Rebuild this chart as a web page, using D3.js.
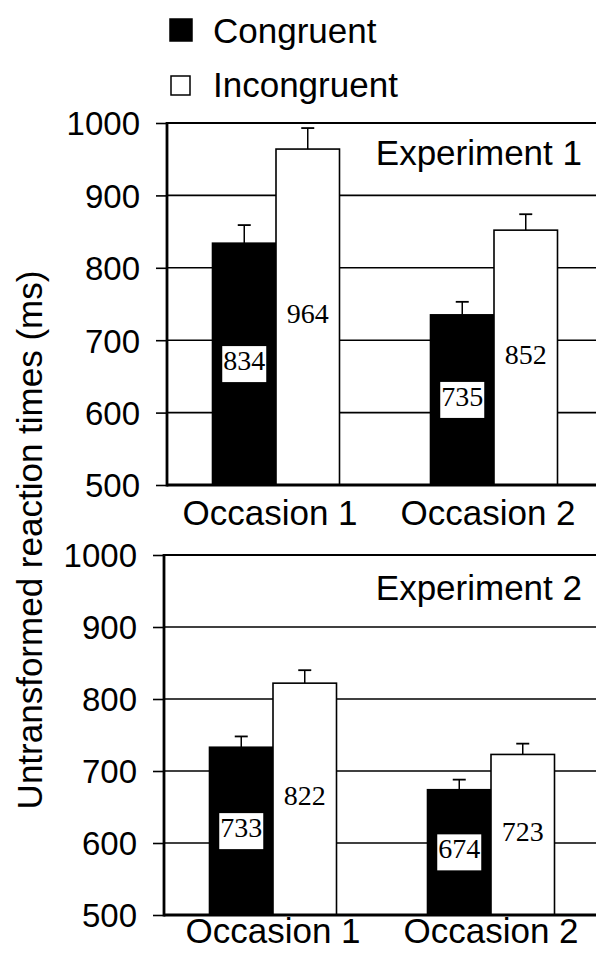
<!DOCTYPE html>
<html lang="en">
    <head>
        <meta charset="utf-8">
        <title>Reaction times</title>
        <script src="https://d3js.org/d3.v7.min.js"></script>
        <style>
            body { margin: 0; background: #fff; }
            text { font-family: "Liberation Sans", Arial, sans-serif; fill: #000; }
            .val { font-family: "Liberation Serif", "Times New Roman", serif; }
        </style>
    </head>
    <body>
        <div id="chart"></div>
        <script>
            // data
            var occasions = ["Occasion 1", "Occasion 2"];
            var series = ["Congruent", "Incongruent"];
            var exp1Congruent = [834, 735];
            var exp1Incongruent = [964, 852];
            var exp1CongruentErr = [25, 18];
            var exp1IncongruentErr = [29, 22];
            var exp2Congruent = [733, 674];
            var exp2Incongruent = [822, 723];
            var exp2CongruentErr = [15, 14];
            var exp2IncongruentErr = [18, 15];
            var yTicks = [500, 600, 700, 800, 900, 1000];

            var width = 596, height = 958;

            var svg = d3.select("#chart")
                        .append("svg")
                        .attr("width", width)
                        .attr("height", height);

            // panel layout
            var panels = [
                {title: "Experiment 1", top: 123, bottom: 485, left: 167, right: 603, titleY: 165, labelY: 525, labelDx: -6,
                 means: [exp1Congruent, exp1Incongruent], errs: [exp1CongruentErr, exp1IncongruentErr]},
                {title: "Experiment 2", top: 555, bottom: 915, left: 164, right: 600, titleY: 600, labelY: 943, labelDx: 0,
                 means: [exp2Congruent, exp2Incongruent], errs: [exp2CongruentErr, exp2IncongruentErr]}
            ];

            var barW = 63.5;

            panels.forEach(function(p) {
                var g = svg.append("g");

                var y = d3.scaleLinear().domain([500, 1000]).range([p.bottom, p.top]);
                var x0 = d3.scaleBand().domain(occasions).range([p.left, p.right]);
                var x1 = d3.scaleBand().domain(series)
                           .range([x0.bandwidth() / 2 - barW, x0.bandwidth() / 2 + barW]);

                // gridlines
                g.selectAll(".grid")
                    .data(yTicks.filter(function(d) { return d > 500 && d < 1000; }))
                    .enter().append("line")
                    .attr("x1", p.left).attr("x2", width + 10)
                    .attr("y1", function(d) { return y(d); })
                    .attr("y2", function(d) { return y(d); })
                    .attr("stroke", "#000").attr("stroke-width", 1.6);

                // top frame line
                g.append("line")
                    .attr("x1", p.left).attr("x2", width + 10)
                    .attr("y1", y(1000)).attr("y2", y(1000))
                    .attr("stroke", "#000").attr("stroke-width", 2.2);

                // bars
                var rows = [];
                occasions.forEach(function(o, i) {
                    series.forEach(function(s, j) {
                        rows.push({occ: o, ser: s, v: p.means[j][i], e: p.errs[j][i]});
                    });
                });

                var bars = g.selectAll(".bar").data(rows).enter().append("g")
                    .attr("transform", function(d) { return "translate(" + (x0(d.occ) + x1(d.ser)) + ",0)"; });

                // error bars
                bars.append("line")
                    .attr("x1", barW / 2).attr("x2", barW / 2)
                    .attr("y1", function(d) { return y(d.v); })
                    .attr("y2", function(d) { return y(d.v + d.e); })
                    .attr("stroke", "#000").attr("stroke-width", 1.5);
                bars.append("line")
                    .attr("x1", barW / 2 - 6.5).attr("x2", barW / 2 + 6.5)
                    .attr("y1", function(d) { return y(d.v + d.e); })
                    .attr("y2", function(d) { return y(d.v + d.e); })
                    .attr("stroke", "#000").attr("stroke-width", 1.8);

                bars.append("rect")
                    .attr("x", 0)
                    .attr("width", barW)
                    .attr("y", function(d) { return y(d.v); })
                    .attr("height", function(d) { return y(500) - y(d.v); })
                    .attr("fill", function(d) { return d.ser === "Congruent" ? "#000" : "#fff"; })
                    .attr("stroke", "#000").attr("stroke-width", 1.6);

                // value labels
                bars.filter(function(d) { return d.ser === "Congruent"; })
                    .append("rect")
                    .attr("x", barW / 2 - 22).attr("width", 44)
                    .attr("y", function(d) { return y((500 + d.v) / 2) - 18; })
                    .attr("height", 36)
                    .attr("fill", "#fff");
                bars.append("text")
                    .attr("class", "val")
                    .attr("x", barW / 2)
                    .attr("y", function(d) { return y((500 + d.v) / 2) + 6; })
                    .attr("text-anchor", "middle")
                    .style("font-size", "28px")
                    .text(function(d) { return d.v; });

                // left axis
                var yAxis = g.append("g")
                    .attr("transform", "translate(" + p.left + ",0)")
                    .call(d3.axisLeft(y).tickValues(yTicks).tickFormat(d3.format("d"))
                            .tickSize(11).tickPadding(16));
                yAxis.select(".domain").remove();
                yAxis.selectAll(".tick line").attr("stroke", "#000").attr("stroke-width", 1.6);
                yAxis.selectAll(".tick text")
                    .attr("dy", "0.36em")
                    .style("font-size", "33px")
                    .style("font-family", "'Liberation Sans', Arial, sans-serif");
                g.append("line")
                    .attr("x1", p.left).attr("x2", p.left)
                    .attr("y1", y(1000) - 1).attr("y2", y(500) + 1.5)
                    .attr("stroke", "#000").attr("stroke-width", 2.8);

                // bottom axis line
                g.append("line")
                    .attr("x1", p.left).attr("x2", width + 10)
                    .attr("y1", y(500)).attr("y2", y(500))
                    .attr("stroke", "#000").attr("stroke-width", 2.8);

                // category labels
                g.selectAll(".occ").data(occasions).enter().append("text")
                    .attr("x", function(d) { return x0(d) + x0.bandwidth() / 2 + p.labelDx; })
                    .attr("y", p.labelY)
                    .attr("text-anchor", "middle")
                    .style("font-size", "35px")
                    .text(function(d) { return d; });

                // panel title
                g.append("text")
                    .attr("x", 582).attr("y", p.titleY)
                    .attr("text-anchor", "end")
                    .style("font-size", "35px")
                    .text(p.title);
            });

            // y axis title
            svg.append("text")
                .attr("transform", "translate(42,540) rotate(-90)")
                .attr("text-anchor", "middle")
                .style("font-size", "35px")
                .text("Untransformed reaction times (ms)");

            // legend
            var legend = svg.selectAll(".legend").data(series).enter().append("g")
                .attr("transform", function(d, i) { return "translate(170," + (43 + i * 54) + ")"; });
            legend.append("rect")
                .attr("x", function(d, i) { return i === 0 ? 0 : 1; })
                .attr("y", function(d, i) { return i === 0 ? -24 : -21; })
                .attr("width", function(d, i) { return i === 0 ? 22 : 19; })
                .attr("height", function(d, i) { return i === 0 ? 22 : 19; })
                .attr("fill", function(d, i) { return i === 0 ? "#000" : "#fff"; })
                .attr("stroke", "#000").attr("stroke-width", 1.5);
            legend.append("text")
                .attr("x", 43)
                .style("font-size", "35px")
                .text(function(d) { return d; });
        </script>
    </body>
</html>
